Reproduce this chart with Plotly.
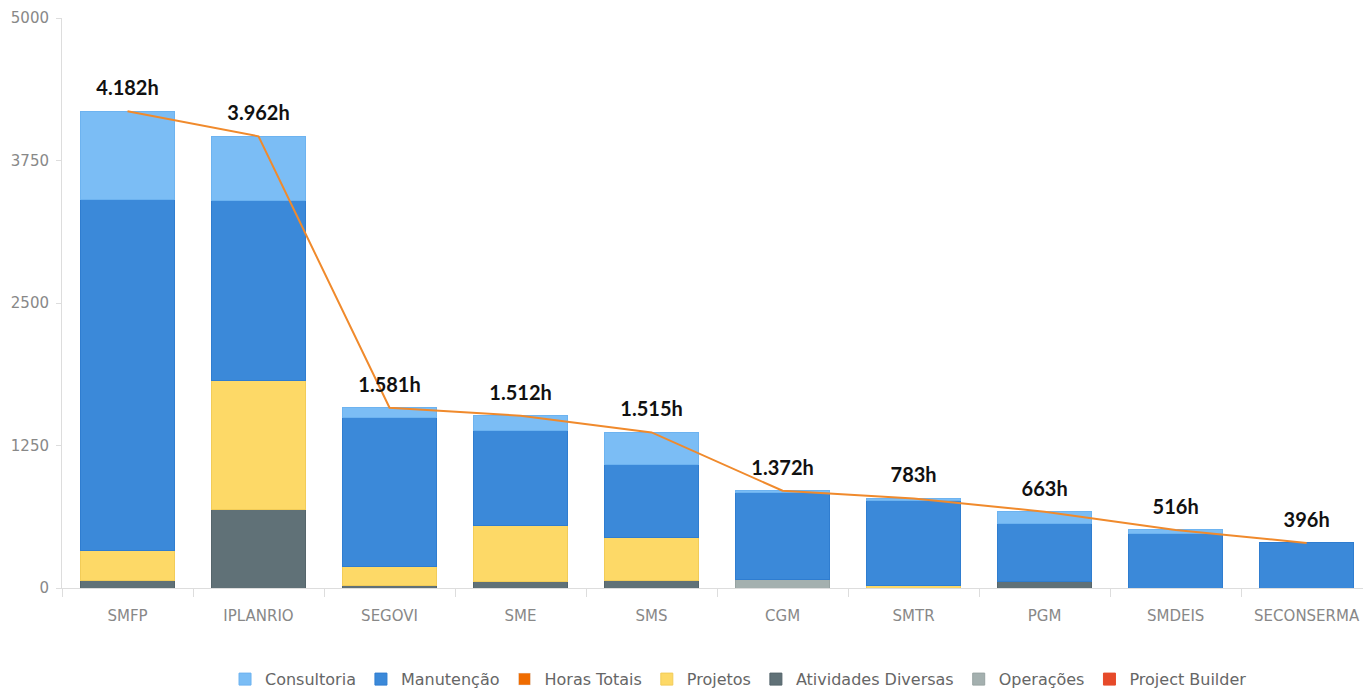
import plotly.graph_objects as go

# categorias e valores (horas)
categorias = ['SMFP', 'IPLANRIO', 'SEGOVI', 'SME', 'SMS',
              'CGM', 'SMTR', 'PGM', 'SMDEIS', 'SECONSERMA']
consultoria = [775, 559, 84, 132, 284, 11, 15, 105, 35, 0]
manutencao = [3080, 1585, 1310, 827, 634, 766, 745, 503, 474, 395]
projetos = [257, 1128, 169, 497, 377, 0, 26, 0, 0, 0]
atividades_diversas = [70, 690, 18, 55, 70, 0, 0, 61, 0, 0]
operacoes = [0, 0, 0, 0, 0, 76, 0, 0, 0, 0]
project_builder = [0, 0, 0, 0, 0, 0, 0, 0, 0, 0]
horas_totais = [4182, 3962, 1581, 1511, 1365, 853, 786, 669, 509, 395]
rotulos = ['4.182h', '3.962h', '1.581h', '1.512h', '1.515h',
           '1.372h', '783h', '663h', '516h', '396h']

y_ticks = [0, 1250, 2500, 3750, 5000]

cores = {
    'Consultoria': ('#7BBDF5', '#6DB3F0'),
    'Manutenção': ('#3B89D9', '#2F7DD0'),
    'Horas Totais': ('#EF6C00', '#EF6C00'),
    'Projetos': ('#FDD967', '#F2CC58'),
    'Atividades Diversas': ('#607177', '#55656B'),
    'Operações': ('#A4B0AF', '#97A3A2'),
    'Project Builder': ('#E64A2A', '#E64A2A'),
}
ordem_legenda = ['Consultoria', 'Manutenção', 'Horas Totais', 'Projetos',
                 'Atividades Diversas', 'Operações', 'Project Builder']


def barra(nome, valores):
    fill, borda = cores[nome]
    # zero = sem segmento (evita borda desenhada em barra de altura 0)
    vals = [v if v else None for v in valores]
    return go.Bar(
        x=categorias, y=vals, name=nome,
        marker=dict(color=fill, line=dict(color=borda, width=1)),
        legendrank=ordem_legenda.index(nome) + 1,
    )


fig = go.Figure()
# ordem de empilhamento: de baixo para cima
fig.add_trace(barra('Atividades Diversas', atividades_diversas))
fig.add_trace(barra('Operações', operacoes))
fig.add_trace(barra('Projetos', projetos))
fig.add_trace(barra('Manutenção', manutencao))
fig.add_trace(barra('Consultoria', consultoria))
fig.add_trace(barra('Project Builder', project_builder))

# so para a legenda (quadrado laranja)
fig.add_trace(go.Bar(
    x=[None], y=[None], name='Horas Totais',
    marker=dict(color=cores['Horas Totais'][0]),
    legendrank=3,
))

fig.add_trace(go.Scatter(
    x=categorias, y=horas_totais, name='Horas Totais',
    mode='lines+markers+text',
    line=dict(color='#F08A2C', width=2),
    marker=dict(size=16, opacity=0),
    text=rotulos, textposition='top center',
    textfont=dict(family='Lato, Open Sans, sans-serif', size=20,
                  color='#111111', weight='bold'),
    showlegend=False,
))

fig.update_layout(
    width=1363, height=688,
    barmode='stack', bargap=0.28,
    plot_bgcolor='white', paper_bgcolor='white',
    margin=dict(l=62, r=0, t=18, b=100, autoexpand=False),
    font=dict(family='DejaVu Sans, Verdana, sans-serif', size=15, color='#888888'),
    legend=dict(orientation='h', x=0.52, xanchor='center', y=-0.16,
                yanchor='middle', traceorder='normal',
                font=dict(size=16, color='#666666')),
    xaxis=dict(range=[-0.5, 9.43], showline=True, linecolor='#DDDDDD',
               linewidth=1, ticks='outside', tickson='boundaries',
               ticklen=8, tickcolor='#DDDDDD', ticklabelstandoff=14,
               showgrid=False, automargin=False,
               tickfont=dict(size=15, color='#888888')),
    yaxis=dict(range=[0, 5000], tickvals=y_ticks, showline=True,
               linecolor='#DDDDDD', linewidth=1, ticks='outside', ticklen=5,
               tickcolor='#DDDDDD', showgrid=False, zeroline=False,
               automargin=False, ticklabelstandoff=4,
               tickfont=dict(size=15, color='#888888')),
)

# tira a margem padrao do <body> para a figura ficar em (0, 0)
fig.write_html('out.html',
               config={'displayModeBar': False},
               post_script="document.body.style.margin='0';"
                           "document.body.style.overflow='hidden';")
